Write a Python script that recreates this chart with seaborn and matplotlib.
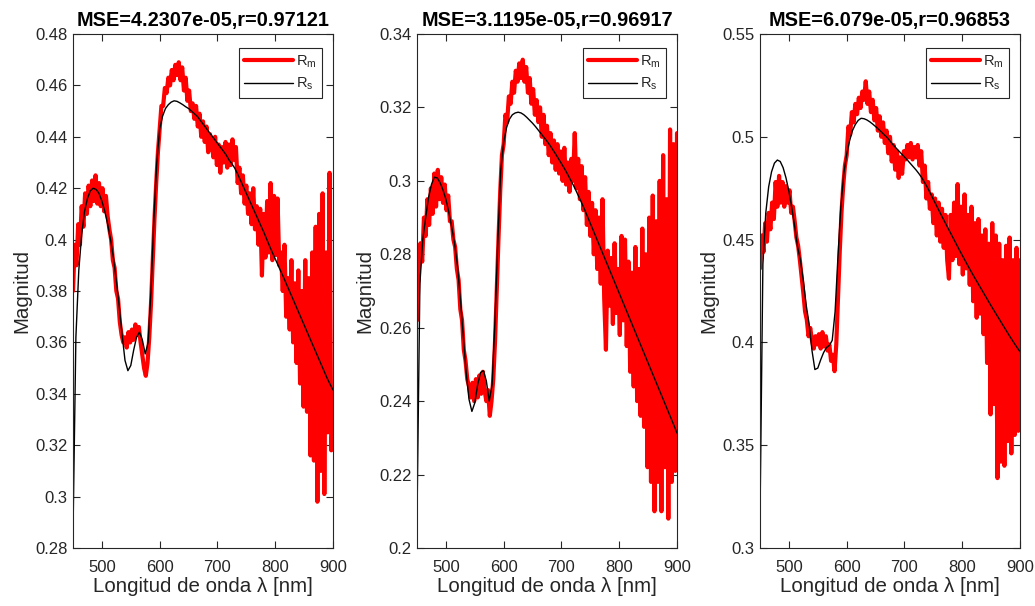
import numpy as np
import pandas as pd
import matplotlib
matplotlib.use("Agg")
import matplotlib.pyplot as plt
import seaborn as sns
from matplotlib.ticker import FuncFormatter

# ---------------- data ----------------
wl_m = np.arange(450, 901, 3)   # measured wavelength grid (nm)
wl_s = np.arange(450, 901, 5)   # simulated wavelength grid (nm)

titles = ["MSE=4.2307e-05,r=0.97121",
          "MSE=3.1195e-05,r=0.96917",
          "MSE=6.079e-05,r=0.96853"]

xticks = [500, 600, 700, 800, 900]
ylims = [(0.28, 0.48), (0.20, 0.34), (0.30, 0.55)]
yticks = [[0.28, 0.30, 0.32, 0.34, 0.36, 0.38, 0.40, 0.42, 0.44, 0.46, 0.48],
          [0.20, 0.22, 0.24, 0.26, 0.28, 0.30, 0.32, 0.34],
          [0.30, 0.35, 0.40, 0.45, 0.50, 0.55]]

rm_1 = [
    0.380, 0.398, 0.390, 0.406, 0.398, 0.413, 0.405, 0.418, 0.410, 0.421,
    0.413, 0.423, 0.415, 0.425, 0.414, 0.422, 0.413, 0.420, 0.411, 0.417,
    0.409, 0.404, 0.400, 0.392, 0.389, 0.380, 0.377, 0.368, 0.363, 0.360,
    0.362, 0.358, 0.364, 0.360, 0.365, 0.361, 0.367, 0.363, 0.366, 0.360,
    0.355, 0.350, 0.347, 0.352, 0.362, 0.375, 0.392, 0.408, 0.422, 0.434,
    0.443, 0.452, 0.452, 0.459, 0.457, 0.463, 0.460, 0.466, 0.462, 0.468,
    0.464, 0.469, 0.462, 0.467, 0.458, 0.463, 0.454, 0.458, 0.450, 0.453,
    0.447, 0.452, 0.444, 0.449, 0.440, 0.446, 0.438, 0.444, 0.434, 0.441,
    0.438, 0.432, 0.440, 0.429, 0.437, 0.426, 0.436, 0.430, 0.438, 0.428,
    0.437, 0.429, 0.439, 0.431, 0.436, 0.422, 0.428, 0.418, 0.425, 0.414,
    0.421, 0.410, 0.418, 0.406, 0.420, 0.404, 0.413, 0.398, 0.412, 0.386,
    0.410, 0.393, 0.415, 0.395, 0.422, 0.392, 0.417, 0.394, 0.416, 0.390,
    0.395, 0.380, 0.398, 0.370, 0.385, 0.365, 0.392, 0.360, 0.383, 0.352,
    0.388, 0.344, 0.380, 0.335, 0.392, 0.333, 0.385, 0.316, 0.395, 0.314,
    0.405, 0.298, 0.410, 0.310, 0.418, 0.301, 0.395, 0.325, 0.426, 0.318,
    0.330]

rs_1 = [
    0.286, 0.362, 0.388, 0.402, 0.411, 0.416, 0.419, 0.420, 0.4195, 0.418,
    0.415, 0.411, 0.406, 0.400, 0.393, 0.384, 0.374, 0.363, 0.353, 0.349,
    0.351, 0.357, 0.362, 0.364, 0.361, 0.3555, 0.360, 0.380, 0.408, 0.430,
    0.443, 0.448, 0.451, 0.4525, 0.4535, 0.454, 0.4538, 0.4532, 0.4525, 0.4517,
    0.451, 0.450, 0.449, 0.448, 0.4465, 0.445, 0.4435, 0.442, 0.4405, 0.439,
    0.4375, 0.436, 0.4345, 0.433, 0.431, 0.4295, 0.4278, 0.4255, 0.423, 0.4205,
    0.418, 0.4155, 0.413, 0.4105, 0.408, 0.4055, 0.403, 0.4003, 0.3976, 0.395,
    0.3925, 0.390, 0.3875, 0.385, 0.3824, 0.3798, 0.3772, 0.3746, 0.372, 0.3694,
    0.3668, 0.3642, 0.3616, 0.359, 0.3564, 0.3538, 0.3512, 0.3486, 0.346, 0.3437,
    0.3415]

rm_2 = [
    0.262, 0.275, 0.283, 0.278, 0.290, 0.285, 0.295, 0.288, 0.298, 0.291,
    0.302, 0.293, 0.303, 0.295, 0.301, 0.294, 0.299, 0.292, 0.296, 0.289,
    0.289, 0.284, 0.282, 0.276, 0.273, 0.265, 0.262, 0.254, 0.251, 0.246,
    0.244, 0.241, 0.245, 0.240, 0.246, 0.241, 0.247, 0.242, 0.248, 0.243,
    0.240, 0.243, 0.236, 0.240, 0.246, 0.256, 0.270, 0.284, 0.297, 0.307,
    0.310, 0.318, 0.316, 0.323, 0.321, 0.327, 0.324, 0.330, 0.327, 0.332,
    0.328, 0.333, 0.327, 0.331, 0.324, 0.328, 0.321, 0.325, 0.318, 0.322,
    0.316, 0.320, 0.312, 0.318, 0.310, 0.315, 0.307, 0.313, 0.305, 0.311,
    0.303, 0.310, 0.302, 0.308, 0.300, 0.309, 0.299, 0.305, 0.297, 0.306,
    0.300, 0.313, 0.298, 0.306, 0.295, 0.304, 0.292, 0.301, 0.288, 0.297,
    0.285, 0.294, 0.280, 0.292, 0.276, 0.290, 0.272, 0.295, 0.268, 0.254,
    0.281, 0.266, 0.279, 0.261, 0.283, 0.264, 0.276, 0.258, 0.285, 0.262,
    0.284, 0.255, 0.278, 0.248, 0.275, 0.244, 0.282, 0.240, 0.276, 0.236,
    0.287, 0.233, 0.280, 0.222, 0.290, 0.218, 0.296, 0.210, 0.289, 0.218,
    0.300, 0.210, 0.307, 0.222, 0.295, 0.208, 0.314, 0.218, 0.310, 0.221,
    0.313]

rs_2 = [
    0.208, 0.272, 0.284, 0.290, 0.2955, 0.299, 0.301, 0.3008, 0.2995, 0.2975,
    0.295, 0.2915, 0.2875, 0.283, 0.277, 0.268, 0.258, 0.248, 0.2405, 0.2372,
    0.2395, 0.2445, 0.2478, 0.2483, 0.2455, 0.2400, 0.2445, 0.262, 0.284, 0.303,
    0.3105, 0.3145, 0.3168, 0.318, 0.3185, 0.3187, 0.3185, 0.318, 0.3173, 0.3165,
    0.3157, 0.3148, 0.3138, 0.3128, 0.3118, 0.3108, 0.3097, 0.3085, 0.3073, 0.306,
    0.3047, 0.3034, 0.302, 0.3005, 0.299, 0.2974, 0.2957, 0.294, 0.2922, 0.2903,
    0.2884, 0.2865, 0.2846, 0.2827, 0.2808, 0.2789, 0.277, 0.2751, 0.2732, 0.2713,
    0.2694, 0.2675, 0.2656, 0.2637, 0.2618, 0.2599, 0.258, 0.2561, 0.2542, 0.2523,
    0.2504, 0.2485, 0.2466, 0.2447, 0.2428, 0.2409, 0.239, 0.2371, 0.2352, 0.2333,
    0.2313]

rm_3 = [
    0.436, 0.452, 0.444, 0.458, 0.449, 0.463, 0.455, 0.468, 0.460, 0.478,
    0.466, 0.481, 0.468, 0.478, 0.466, 0.476, 0.468, 0.474, 0.463, 0.466,
    0.459, 0.451, 0.447, 0.440, 0.432, 0.424, 0.415, 0.411, 0.403, 0.407,
    0.401, 0.397, 0.403, 0.399, 0.404, 0.397, 0.405, 0.398, 0.403, 0.396,
    0.399, 0.391, 0.394, 0.386, 0.399, 0.422, 0.444, 0.463, 0.476, 0.486,
    0.491, 0.505, 0.501, 0.512, 0.507, 0.516, 0.511, 0.519, 0.514, 0.522,
    0.518, 0.527, 0.516, 0.522, 0.512, 0.518, 0.508, 0.514, 0.503, 0.510,
    0.500, 0.507, 0.497, 0.503, 0.492, 0.500, 0.488, 0.496, 0.484, 0.493,
    0.480, 0.490, 0.482, 0.493, 0.489, 0.496, 0.490, 0.497, 0.489, 0.495,
    0.490, 0.496, 0.486, 0.493, 0.478, 0.486, 0.470, 0.478, 0.465, 0.472,
    0.458, 0.470, 0.452, 0.468, 0.449, 0.465, 0.446, 0.462, 0.440, 0.431,
    0.462, 0.440, 0.468, 0.442, 0.477, 0.438, 0.466, 0.433, 0.472, 0.436,
    0.462, 0.428, 0.466, 0.420, 0.458, 0.412, 0.460, 0.414, 0.452, 0.404,
    0.455, 0.390, 0.448, 0.365, 0.458, 0.370, 0.452, 0.334, 0.448, 0.342,
    0.440, 0.340, 0.447, 0.352, 0.451, 0.346, 0.440, 0.355, 0.446, 0.357,
    0.440]

rs_3 = [
    0.315, 0.438, 0.463, 0.4757, 0.483, 0.4872, 0.4887, 0.488, 0.485, 0.480,
    0.4735, 0.4655, 0.4565, 0.4465, 0.440, 0.430, 0.418, 0.409, 0.396, 0.3868,
    0.3875, 0.3915, 0.395, 0.3975, 0.3985, 0.401, 0.415, 0.442, 0.466, 0.482,
    0.4915, 0.498, 0.503, 0.506, 0.508, 0.509, 0.5088, 0.5082, 0.5073, 0.5062,
    0.505, 0.5037, 0.5024, 0.501, 0.4997, 0.498, 0.4962, 0.4947, 0.4932, 0.4917,
    0.4902, 0.4887, 0.4871, 0.4855, 0.4839, 0.4821, 0.4801, 0.4777, 0.4752, 0.4724,
    0.4696, 0.4668, 0.464, 0.4612, 0.4585, 0.4558, 0.4531, 0.4504, 0.4477, 0.445,
    0.4424, 0.4398, 0.4372, 0.4347, 0.4322, 0.4298, 0.4274, 0.425, 0.4226, 0.4202,
    0.4178, 0.4155, 0.4132, 0.4109, 0.4086, 0.4063, 0.404, 0.4018, 0.3996, 0.3975,
    0.3955]

measured = [rm_1, rm_2, rm_3]
simulated = [rs_1, rs_2, rs_3]

# ---------------- style ----------------
sns.set_theme(style="ticks")
plt.rcParams["font.family"] = ["Liberation Sans", "DejaVu Sans"]
plt.rcParams["mathtext.fontset"] = "custom"
plt.rcParams["mathtext.rm"] = "Liberation Sans"
plt.rcParams["mathtext.it"] = "Liberation Sans"
plt.rcParams["axes.unicode_minus"] = False

GRAY = "#262626"
W, H = 1035, 606
fig = plt.figure(figsize=(W / 100, H / 100), dpi=100)

lefts_px = [73, 417, 760]
ax_w_px, ax_top_px, ax_bot_px = 260, 34, 548

for i in range(3):
    ax = fig.add_axes([lefts_px[i] / W, 1 - ax_bot_px / H,
                       ax_w_px / W, (ax_bot_px - ax_top_px) / H])
    sns.lineplot(x=wl_m, y=measured[i], ax=ax, color="#ff0000", lw=3,
                 label=r"R$_\mathrm{m}$", estimator=None, sort=False)
    sns.lineplot(x=wl_s, y=simulated[i], ax=ax, color="black", lw=1,
                 label=r"R$_\mathrm{s}$", estimator=None, sort=False)
    ax.set_xlim(450, 900)
    ax.set_ylim(*ylims[i])
    ax.set_xticks(xticks)
    ax.set_yticks(yticks[i])
    ax.yaxis.set_major_formatter(FuncFormatter(lambda v, p: f"{v:g}"))
    ax.tick_params(axis="both", direction="in", top=True, right=True,
                   length=5, width=0.8, color=GRAY, labelcolor=GRAY,
                   labelsize=12)
    ax.tick_params(axis="x", pad=9)
    ax.tick_params(axis="y", pad=4)
    for sp in ax.spines.values():
        sp.set_visible(True)
        sp.set_color(GRAY)
        sp.set_linewidth(0.8)
    ax.set_title(titles[i], fontweight="bold", fontsize=14.3, color="black", pad=6)
    ax.set_xlabel("Longitud de onda λ [nm]", fontsize=14.8, color=GRAY, labelpad=1)
    ax.set_ylabel("Magnitud", fontsize=14.8, color=GRAY, labelpad=3)
    leg = ax.legend(loc="upper right", bbox_to_anchor=(1 - 11 / 260, 1 - 14 / 514),
                    borderaxespad=0, fontsize=10.5, handlelength=3.4,
                    frameon=True, fancybox=False, edgecolor=GRAY,
                    framealpha=1, labelspacing=0.45, handletextpad=0.2,
                    borderpad=0.35)
    leg.get_frame().set_linewidth(0.8)

fig.savefig("out.png", dpi=100, facecolor="white")
